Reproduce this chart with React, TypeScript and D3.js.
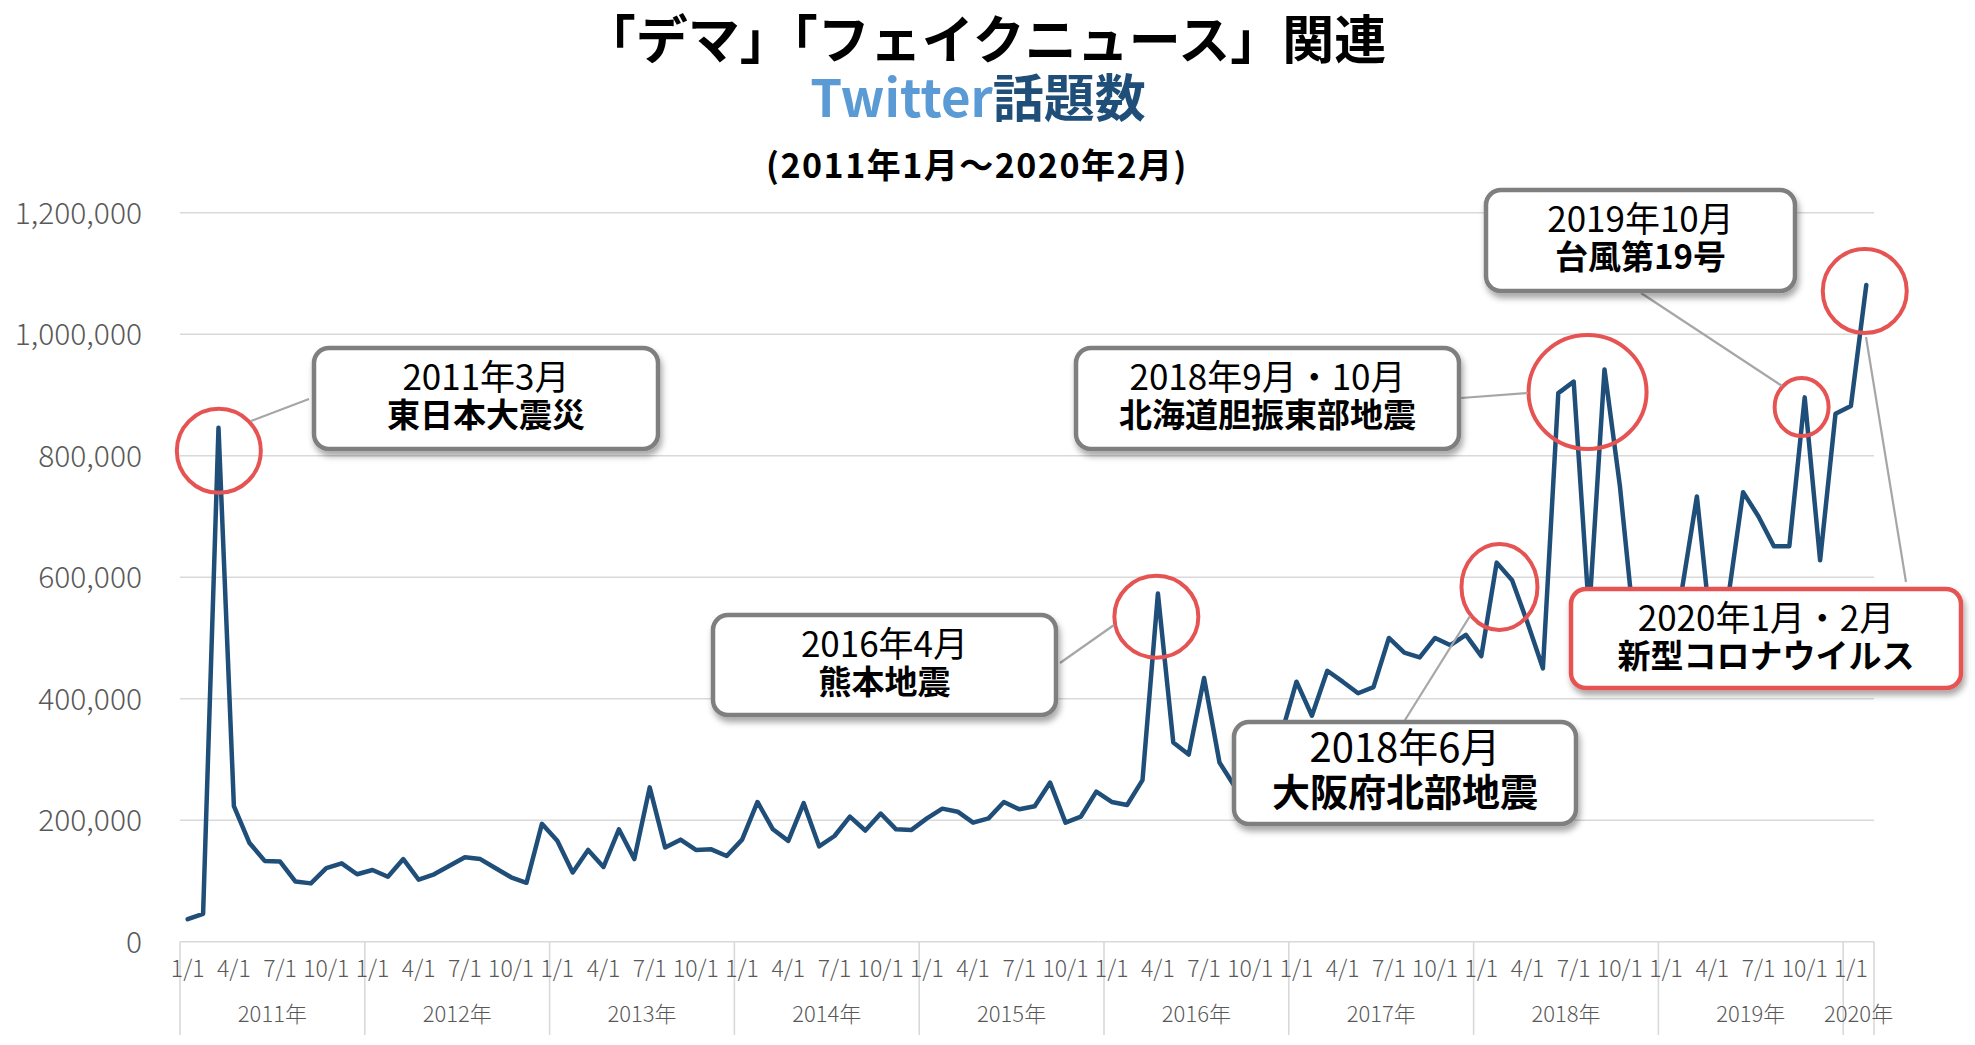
import React from "react";
import * as d3 from "d3";

// ---------- data ----------
const years = ["2011年", "2012年", "2013年", "2014年", "2015年", "2016年", "2017年", "2018年", "2019年", "2020年"];
const monthsPerYear = [12, 12, 12, 12, 12, 12, 12, 12, 12, 2];
const monthTickLabels = ["1/1", "4/1", "7/1", "10/1"];
const yTicks = [0, 200000, 400000, 600000, 800000, 1000000, 1200000];

// monthly Twitter topic counts (thousands)
const v2011 = [37, 46, 846, 223, 163, 133, 132, 99, 96, 121, 129, 111];
const v2012 = [118, 107, 136, 102, 111, 125, 139, 136, 121, 106, 97, 194];
const v2013 = [166, 114, 151, 123, 185, 136, 254, 155, 168, 151, 152, 141];
const v2014 = [168, 230, 185, 166, 228, 157, 174, 206, 183, 211, 185, 184];
const v2015 = [203, 219, 214, 196, 203, 230, 218, 223, 262, 196, 206, 247];
const v2016 = [230, 225, 266, 573, 328, 308, 434, 295, 255, 240, 270, 340];
const v2017 = [428, 372, 446, 428, 409, 419, 500, 476, 468, 500, 488, 505];
const v2018 = [470, 624, 595, 525, 450, 903, 922, 540, 942, 750, 500, 480];
const v2019 = [530, 575, 733, 490, 560, 740, 700, 651, 651, 896, 628, 869];
const v2020 = [882, 1081];

const counts = [...v2011, ...v2012, ...v2013, ...v2014, ...v2015, ...v2016, ...v2017, ...v2018, ...v2019, ...v2020].map((d) => d * 1000);

// annotation content
const callouts = [
  { line1: "2011年3月", line2: "東日本大震災", x: 312, y: 346, w: 348, h: 105, fs1: 35, fs2: 33, d1: 28, d2: 67, red: false },
  { line1: "2016年4月", line2: "熊本地震", x: 711, y: 613, w: 347, h: 104, fs1: 35, fs2: 33, d1: 28, d2: 67, red: false },
  { line1: "2018年9月・10月", line2: "北海道胆振東部地震", x: 1074, y: 346, w: 387, h: 105, fs1: 35, fs2: 33, d1: 28, d2: 67, red: false },
  { line1: "2019年10月", line2: "台風第19号", x: 1484, y: 188, w: 313, h: 105, fs1: 35, fs2: 33, d1: 28, d2: 67, red: false },
  { line1: "2020年1月・2月", line2: "新型コロナウイルス", x: 1569, y: 587, w: 394, h: 103, fs1: 35, fs2: 33, d1: 28, d2: 67, red: true },
  { line1: "2018年6月", line2: "大阪府北部地震", x: 1232, y: 720, w: 346, h: 106, fs1: 40, fs2: 38, d1: 25, d2: 69, red: false },
];
// highlight rings: month index (fractional) and value at ring centre
const rings = [
  { m: 2.02, v: 808000, rx: 42, ry: 42 },
  { m: 62.9, v: 535000, rx: 42, ry: 41 },
  { m: 90.9, v: 905000, rx: 59, ry: 57 },
  { m: 104.8, v: 880000, rx: 27, ry: 29 },
  { m: 108.9, v: 1071000, rx: 42, ry: 42 },
  { m: 85.18, v: 584000, rx: 38, ry: 43 },
];
const leaders = [
  [251, 421, 309, 399],
  [1060, 663, 1114, 625],
  [1461, 398, 1528, 393],
  [1641, 293, 1782, 386],
  [1866, 337, 1906, 582],
  [1405, 720, 1470, 616],
];

// ---------- layout ----------
const W = 1975;
const H = 1045;
const LEFT = 180;
const RIGHT = 1874;
const Y0 = 941.7;
const YTOP = 212.7;
const RED = "#e65353";
const GRID = "#d9d9d9";
const LABEL = "#595959";
const FONT = "'Noto Sans CJK JP', 'Noto Sans', sans-serif";

export default function App() {
  const n = counts.length;
  const x = d3.scaleBand<number>().domain(d3.range(n)).range([LEFT, RIGHT]).paddingInner(0).paddingOuter(0);
  const step = x.step();
  const xc = (i: number) => (x(i) as number) + x.bandwidth() / 2;
  const xAt = (f: number) => xc(Math.floor(f)) + (f - Math.floor(f)) * step;
  const y = d3.scaleLinear().domain([0, 1200000]).range([Y0, YTOP]);
  const line = d3
    .line<number>()
    .x((_, i) => xc(i))
    .y((d) => y(d));
  const fmt = d3.format(",");

  const starts: number[] = [];
  let acc = 0;
  monthsPerYear.forEach((m) => {
    starts.push(acc);
    acc += m;
  });

  return (
    <svg width={W} height={H} style={{ position: "absolute", left: 0, top: 0, background: "#fff" }} fontFamily={FONT}>
      <defs>
        <filter id="sh" x="-10%" y="-10%" width="125%" height="140%">
          <feDropShadow dx="2" dy="5" stdDeviation="3" floodColor="#000" floodOpacity="0.35" />
        </filter>
      </defs>
      <rect x={0} y={0} width={W} height={H} fill="#fff" />

      {/* titles */}
      <text x={985} y={36} textAnchor="middle" dominantBaseline="central" fontSize={52} fontWeight={700} fill="#000">
        「デマ」「フェイクニュース」関連
      </text>
      <text x={978} y={95} textAnchor="middle" dominantBaseline="central" fontSize={51} fontWeight={700}>
        <tspan fill="#5b9bd5">Twitter</tspan>
        <tspan fill="#1f4e79">話題数</tspan>
      </text>
      <text x={977} y={163} textAnchor="middle" dominantBaseline="central" fontSize={34} fontWeight={700} letterSpacing={1.5} fill="#000">
        (2011年1月～2020年2月)
      </text>

      {/* gridlines and value labels */}
      {yTicks.map((t) => (
        <g key={t}>
          <line x1={LEFT} x2={RIGHT} y1={y(t)} y2={y(t)} stroke={GRID} strokeWidth={1.6} />
          <text x={142} y={y(t) - 2} textAnchor="end" dominantBaseline="central" fontSize={30} fontWeight={300} fill={LABEL}>
            {fmt(t)}
          </text>
        </g>
      ))}

      {/* category axis */}
      {starts.map((s, k) => (
        <line key={"d" + k} x1={x(s) as number} x2={x(s) as number} y1={Y0} y2={1035} stroke={GRID} strokeWidth={1.6} />
      ))}
      <line x1={RIGHT} x2={RIGHT} y1={Y0} y2={1035} stroke={GRID} strokeWidth={1.6} />
      {counts.map((_, i) => {
        const yi = starts.findIndex((s, k) => i >= s && i < s + monthsPerYear[k]);
        const mi = i - starts[yi];
        if (mi % 3 !== 0) return null;
        return (
          <text key={"m" + i} x={xc(i)} y={967} textAnchor="middle" dominantBaseline="central" fontSize={23} fontWeight={300} fill={LABEL}>
            {monthTickLabels[mi / 3]}
          </text>
        );
      })}
      {years.map((yr, k) => {
        const s = starts[k];
        const cx = (x(s) as number) + (monthsPerYear[k] * step) / 2;
        return (
          <text key={yr} x={cx} y={1012} textAnchor="middle" dominantBaseline="central" fontSize={22} fontWeight={300} fill={LABEL}>
            {yr}
          </text>
        );
      })}

      {/* data line */}
      <path d={line(counts) || ""} fill="none" stroke="#1f4e79" strokeWidth={4.5} strokeLinejoin="round" strokeLinecap="round" />

      {/* rings */}
      {rings.map((r, k) => (
        <ellipse key={"r" + k} cx={xAt(r.m)} cy={y(r.v)} rx={r.rx} ry={r.ry} fill="none" stroke={RED} strokeWidth={4} />
      ))}

      {/* leader lines */}
      {leaders.map((l, k) => (
        <line key={"l" + k} x1={l[0]} y1={l[1]} x2={l[2]} y2={l[3]} stroke="#a6a6a6" strokeWidth={2.2} />
      ))}

      {/* callout boxes */}
      {callouts.map((c, k) => (
        <g key={"c" + k}>
          <rect
            x={c.x + 2}
            y={c.y + 2}
            width={c.w - 4}
            height={c.h - 4}
            rx={15}
            ry={15}
            fill="#fff"
            stroke={c.red ? RED : "#7f7f7f"}
            strokeWidth={4.5}
            filter="url(#sh)"
          />
          <text x={c.x + c.w / 2} y={c.y + c.d1} textAnchor="middle" dominantBaseline="central" fontSize={c.fs1} fill="#000">
            {c.line1}
          </text>
          <text x={c.x + c.w / 2} y={c.y + c.d2} textAnchor="middle" dominantBaseline="central" fontSize={c.fs2} fontWeight={700} fill="#000">
            {c.line2}
          </text>
        </g>
      ))}
    </svg>
  );
}
